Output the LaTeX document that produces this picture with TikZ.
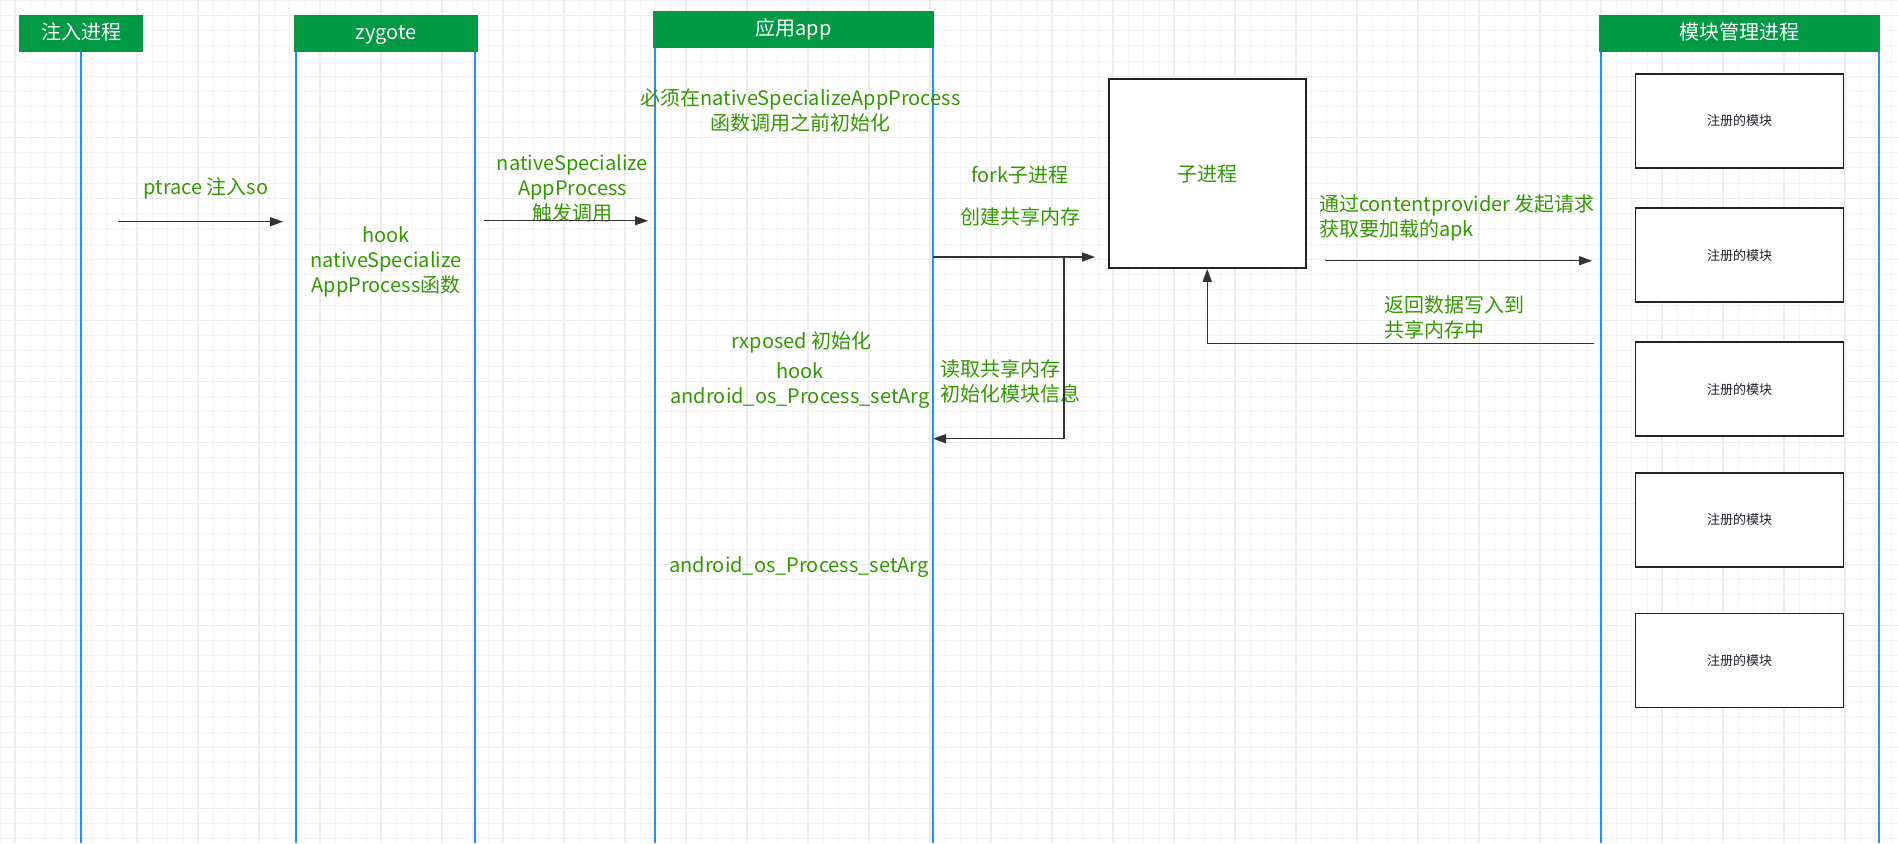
\documentclass[tikz,border=0pt]{standalone}
\usepackage{fontspec}
\setmainfont{Noto Sans CJK SC}
\usepackage{tikz}
\usetikzlibrary{
  arrows.meta,
  positioning
}
\definecolor{hdrgreen}{RGB}{0,153,68}
\definecolor{lblgreen}{RGB}{51,153,0}
\definecolor{lifeblue}{RGB}{30,144,255}
\definecolor{boxdark}{RGB}{31,35,41}
\definecolor{arrgray}{RGB}{51,51,51}
\definecolor{gridmaj}{RGB}{237,237,237}
\definecolor{gridmin}{RGB}{243,243,243}
\tikzset{
  hdrbox/.style={fill=hdrgreen, text=white, minimum height=18.5pt,
    inner sep=0pt, text height=0.78em, text depth=0.22em,
    font=\fontsize{10pt}{12pt}\selectfont},
  lbl/.style={text=lblgreen, align=center, inner sep=0pt,
    font=\fontsize{10pt}{12.5pt}\selectfont},
  modbox/.style={draw=boxdark, line width=0.75pt, fill=white,
    minimum width=103.8pt, minimum height=47pt, inner sep=0pt,
    text=boxdark, font=\fontsize{6.5pt}{8pt}\selectfont},
  life/.style={lifeblue, line width=0.8pt},
  arr/.style={-{Triangle[length=6.5pt,width=4.5pt]}, arrgray, line width=0.75pt},
}

\begin{document}
\begin{tikzpicture}[
  x=0.5pt, y=-0.5pt,
  gminor/.style={gridmin, line width=0.5pt},
  gmajor/.style={gridmaj, line width=0.8pt}
]
  \useasboundingbox (0,0) rectangle (1898,843);
  \fill[white] (0,0) rectangle (1898,843);

  % background grid
  \foreach \i in {0,...,124} \draw[gminor] ({\i*15.25},0) -- ({\i*15.25},843);
  \foreach \j in {0,...,55} \draw[gminor] (0,{\j*15.25}) -- (1898,{\j*15.25});
  \foreach \i in {0,...,30} \draw[gmajor] ({15+\i*61},0) -- ({15+\i*61},843);
  \foreach \j in {0,...,13} \draw[gmajor] (0,{15.5+\j*61}) -- (1898,{15.5+\j*61});

  % lifelines
  \draw[life] (81,52) -- (81,843);
  \draw[life] (296,52) -- (296,843);
  \draw[life] (475,52) -- (475,843);
  \draw[life] (654.7,48) -- (654.7,843);
  \draw[life] (932.7,48) -- (932.7,843);
  \draw[life] (1601,52) -- (1601,843);
  \draw[life] (1879,52) -- (1879,843);

  % process headers
  \node[hdrbox, minimum width=62pt] (inj) at (81,33.5) {注入进程};
  \node[hdrbox, minimum width=92pt] (zyg) at (386,33.5) {zygote};
  \node[hdrbox, minimum width=140.5pt] (app) at (793.5,29.5) {应用app};
  \node[hdrbox, minimum width=140.5pt] (mgr) at (1739.5,33.5) {模块管理进程};

  % child process
  \node[draw=boxdark, line width=0.75pt, fill=white, minimum width=98.5pt,
        minimum height=94.5pt, inner sep=0pt, text=lblgreen,
        font=\fontsize{10pt}{12pt}\selectfont] (child) at (1207.25,173.6) {子进程};

  % registered modules
  \node[modbox] (m1) at (1739.5,121) {注册的模块};
  \node[modbox, below=19.3pt of m1] (m2) {注册的模块};
  \node[modbox, below=19.3pt of m2] (m3) {注册的模块};
  \node[modbox, below=17.6pt of m3] (m4) {注册的模块};
  \node[modbox, below=22.6pt of m4] (m5) {注册的模块};

  % labels
  \node[lbl] (ptr) at (206,188) {ptrace 注入so};
  \node[lbl] (hk1) at (386,262) {hook\\nativeSpecialize\\AppProcess函数};
  \node[lbl] (trig) at (572.5,188) {nativeSpecialize\\AppProcess\\触发调用};
  \node[lbl] (must) at (800.5,110.5) {必须在nativeSpecializeAppProcess\\函数调用之前初始化};
  \node[lbl] (fork) at (1020,175) {fork子进程};
  \node[lbl] (shm) at (1020,217) {创建共享内存};
  \node[lbl, anchor=west, align=left] (req) at (1318.7,218)
    {通过contentprovider 发起请求\\获取要加载的apk};
  \node[lbl, anchor=west, align=left] (back) at (1384,317.5) {返回数据写入到\\共享内存中};
  \node[lbl] (rxp) at (801.7,342.7) {rxposed 初始化};
  \node[lbl] (hk2) at (800,386) {hook\\android\_os\_Process\_setArg};
  \node[lbl, anchor=west, align=left] (rdm) at (940,381) {读取共享内存\\初始化模块信息};
  \node[lbl] (setarg) at (799,566.7) {android\_os\_Process\_setArg};

  % messages
  \coordinate (injout) at (118,221.7);
  \coordinate (zygin) at (283,221.7);
  \coordinate (zygout) at (484,220.7);
  \coordinate (appin) at (648,220.7);
  \coordinate (appout) at (932.7,257);
  \coordinate (forkend) at (1095,257);
  \coordinate (rdtop) at (1064,257);
  \coordinate (appback) at (933,438.7);
  \coordinate (reqout) at (1325,260.7);
  \coordinate (mgrin) at (1592,260.7);
  \coordinate (mgrout) at (1594,343.7);

  \draw[arr] (injout) -- (zygin);
  \draw[arr] (zygout) -- (appin);
  \draw[arr] (appout) -- (forkend);
  \draw[arr] (rdtop) |- (appback);
  \draw[arr] (reqout) -- (mgrin);
  \draw[arr] (mgrout) -| (child.south);
\end{tikzpicture}
\end{document}
